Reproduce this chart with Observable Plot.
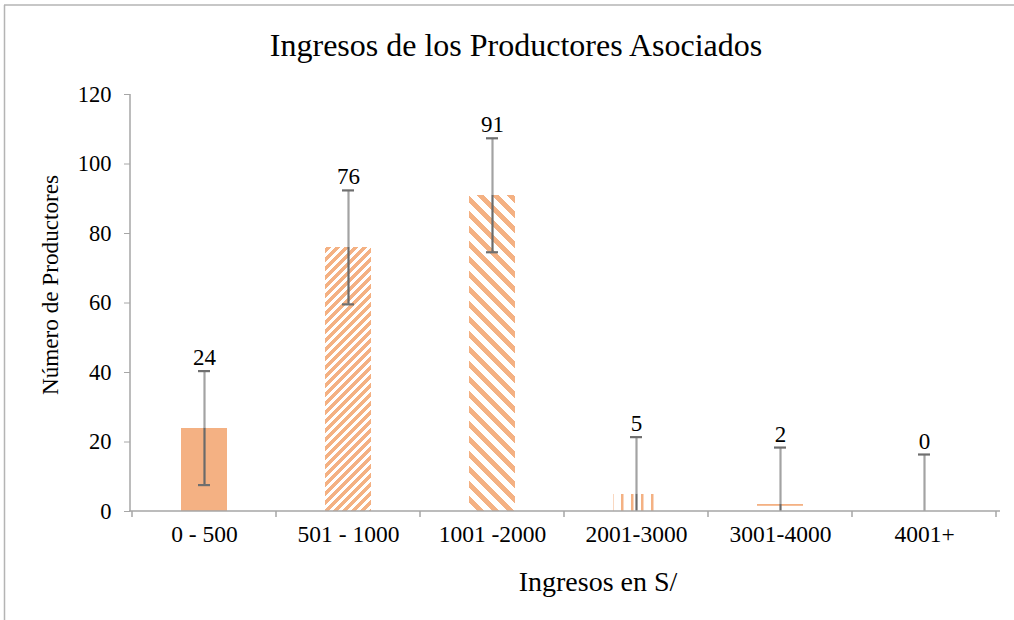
<!DOCTYPE html>
<html><head><meta charset="utf-8">
<script src="https://cdn.jsdelivr.net/npm/d3@7"></script>
<script src="https://cdn.jsdelivr.net/npm/@observablehq/plot@0.6"></script>
<style>
body{margin:0;background:#fff;}
#chart{position:relative;width:1014px;height:620px;overflow:hidden;}
#chart svg, #chart svg text{font-family:"Liberation Serif","Times New Roman",serif !important;}
</style></head><body><div id="chart"></div>
<script>
// ---- data ----
const categories = ["0 - 500", "501 - 1000", "1001 -2000", "2001-3000", "3001-4000", "4001+"];
const productores = [24, 76, 91, 5, 2, 0];
const errorMargin = [16.4, 16.4, 16.4, 16.4, 16.4, 16.4];
const yTicks = [0, 20, 40, 60, 80, 100, 120];
const chartTitle = "Ingresos de los Productores Asociados";
const xTitle = "Ingresos en S/";
const yTitle = "Número de Productores";

// ---- styles ----
const orange = "#F4B183";
const barFills = [orange, "url(#pUp)", "url(#pDown)", "url(#pVert)", "url(#pHoriz)", "url(#pHoriz)"];
const font = "Liberation Serif, Times New Roman, serif";

const data = categories.map((c, i) => ({cat: c, v: productores[i], e: errorMargin[i], fill: barFills[i]}));

const W = 1014, H = 620;
const mL = 132, mR = 18, mT = 94, mB = 109;

const plot = Plot.plot({
  width: W, height: H,
  marginLeft: mL, marginRight: mR, marginTop: mT, marginBottom: mB,
  style: {fontFamily: font, fontSize: "22px", color: "#000", background: "#fff", overflow: "visible"},
  x: {domain: categories, paddingInner: 0.68, paddingOuter: 0.34, label: null, axis: null},
  y: {domain: [0, 120], label: null, axis: null},
  color: {type: "identity"},
  marks: [
    Plot.barY(data, {x: "cat", y: "v", fill: "fill", shapeRendering: "crispEdges"}),
    // error bar stems: above bar (light) and within bar (dark)
    Plot.ruleX(data, {x: "cat", y1: "v", y2: d => d.v + d.e, stroke: "#a3a3a3", strokeWidth: 2.2}),
    Plot.ruleX(data.filter(d => d.v > 0), {x: "cat", y1: d => Math.max(0, d.v - d.e), y2: "v", stroke: "#6a6a6a", strokeWidth: 2.2}),
    // caps
    Plot.tickY(data, {x: "cat", y: d => d.v + d.e, stroke: "#6f6f6f", strokeWidth: 2.2, insetLeft: 17, insetRight: 17}),
    Plot.tickY(data.filter(d => d.v - d.e > 0), {x: "cat", y: d => d.v - d.e, stroke: "#6f6f6f", strokeWidth: 2.2, insetLeft: 17, insetRight: 17}),
    // value labels
    Plot.text(data, {x: "cat", y: d => d.v + d.e, text: d => String(d.v), lineAnchor: "bottom", dy: -6, fontSize: 23, fill: "#000"}),
    // axes
    Plot.axisY({ticks: yTicks, tickSize: 6, tickPadding: 13, dx: -2, stroke: "#a6a6a6", fill: "#000", fontSize: 22.5, label: null}),
    Plot.axisX({tickSize: 0, tickPadding: 14, fill: "#000", fontSize: 23.5, label: null})
  ]
});

const svg = d3.select(plot);
svg.attr("font-family", font);
const defs = svg.insert("defs", ":first-child");
function diag(id, P, sw, up) {
  const p = defs.append("pattern").attr("id", id).attr("patternUnits", "userSpaceOnUse")
    .attr("width", P).attr("height", P);
  p.append("rect").attr("width", P).attr("height", P).attr("fill", "#fff");
  const h = P / 2;
  const dpath = up
    ? `M0,${P} L${P},0 M${-h},${h} L${h},${-h} M${h},${P + h} L${P + h},${h}`
    : `M0,0 L${P},${P} M${-h},${h} L${h},${P + h} M${h},${-h} L${P + h},${h}`;
  p.append("path").attr("d", dpath).attr("stroke", orange).attr("stroke-width", sw)
    .attr("shape-rendering", "crispEdges");
}
diag("pUp", 9, 3.2, true);
diag("pDown", 15, 5, false);
{
  const p = defs.append("pattern").attr("id", "pVert").attr("patternUnits", "userSpaceOnUse")
    .attr("width", 10).attr("height", 10);
  p.append("rect").attr("width", 10).attr("height", 10).attr("fill", "#fff");
  p.append("rect").attr("x", 1).attr("width", 2.5).attr("height", 10).attr("fill", orange);
}
{
  const p = defs.append("pattern").attr("id", "pHoriz").attr("patternUnits", "userSpaceOnUse")
    .attr("width", 8).attr("height", 8);
  p.append("rect").attr("width", 8).attr("height", 8).attr("fill", "#fff");
  p.append("rect").attr("y", 0).attr("width", 8).attr("height", 1.8).attr("fill", orange);
}

// axis lines and category boundary ticks, from the plot's scales
const xs = plot.scale("x"), ys = plot.scale("y");
const y0 = ys.apply(0), yTop = ys.apply(120);
const g = svg.append("g").attr("stroke", "#a6a6a6").attr("stroke-width", 1.5);
g.append("line").attr("x1", mL - 2).attr("x2", mL - 2).attr("y1", yTop).attr("y2", y0 + 0.5);
g.append("line").attr("x1", mL - 2.7).attr("x2", W - 14).attr("y1", y0).attr("y2", y0);
const gap = (xs.step - xs.bandwidth) / 2;
const bounds = categories.map(c => xs.apply(c) - gap);
bounds.push(xs.apply(categories[categories.length - 1]) + xs.bandwidth + gap);
bounds.forEach(b => g.append("line").attr("x1", b).attr("x2", b).attr("y1", y0).attr("y2", y0 + 6));

// chart frame (partial, as in the source)
const fr = svg.append("g").attr("stroke", "#b4b4b4").attr("stroke-width", 1.5);
fr.append("line").attr("x1", 4).attr("x2", W).attr("y1", 5).attr("y2", 5);
fr.append("line").attr("x1", 4.5).attr("x2", 4.5).attr("y1", 5).attr("y2", H);

// titles
svg.append("text").attr("x", 516).attr("y", 45).attr("text-anchor", "middle").attr("dominant-baseline", "central")
  .attr("font-size", 32).attr("fill", "#000").text(chartTitle);
svg.append("text").attr("x", 598).attr("y", 581).attr("text-anchor", "middle").attr("dominant-baseline", "central")
  .attr("font-size", 28).attr("fill", "#000").text(xTitle);
svg.append("text").attr("transform", "translate(50,285) rotate(-90)").attr("text-anchor", "middle").attr("dominant-baseline", "central")
  .attr("font-size", 23.2).attr("fill", "#000").text(yTitle);

svg.selectAll("text").attr("font-family", font);
document.getElementById("chart").appendChild(plot);
</script></body></html>
